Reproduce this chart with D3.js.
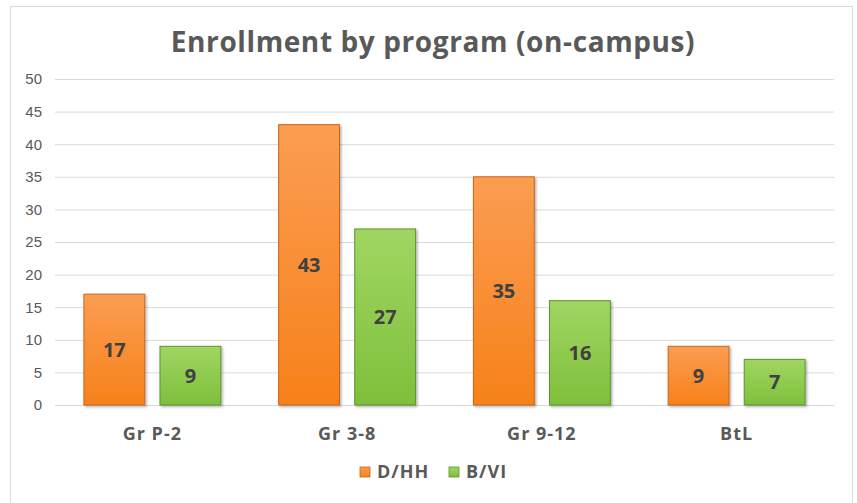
<!DOCTYPE html>
<html>
<head>
<meta charset="utf-8">
<script src="https://cdn.jsdelivr.net/npm/d3@7"></script>
<style>
  body { margin: 0; background: #fff; }
  text { font-family: "Open Sans", "DejaVu Sans", sans-serif; }
</style>
</head>
<body>
<svg id="chart" width="857" height="503"></svg>
<script>
const programs = ["Gr P-2", "Gr 3-8", "Gr 9-12", "BtL"];
const seriesNames = ["D/HH", "B/VI"];
const dhh = [17, 43, 35, 9];
const bvi = [9, 27, 16, 7];
const yTickValues = [0, 5, 10, 15, 20, 25, 30, 35, 40, 45, 50];

let width = 857, height = 503,
  margin = {top: 79, right: 23, bottom: 98, left: 55},
  colors = {"D/HH": ["#fb9d52", "#f7811a"], "B/VI": ["#a0d662", "#7fbf3c"]},
  edge = {"D/HH": "#c9651a", "B/VI": "#5f9230"};

const svg = d3.select("#chart");

// chart frame
svg.append("rect")
  .attr("x", 10.5).attr("y", 6.5)
  .attr("width", 842).attr("height", 510)
  .style("fill", "#fff")
  .style("stroke", "#d9d9d9");

// gradients for bars
const defs = svg.append("defs");
seriesNames.forEach((s, i) => {
  let g = defs.append("linearGradient")
    .attr("id", "grad" + i)
    .attr("x1", 0).attr("y1", 0).attr("x2", 0).attr("y2", 1);
  g.append("stop").attr("offset", "0%").attr("stop-color", colors[s][0]);
  g.append("stop").attr("offset", "100%").attr("stop-color", colors[s][1]);
});
let sh = defs.append("filter").attr("id", "shadow")
  .attr("x", "-20%").attr("y", "-20%").attr("width", "140%").attr("height", "140%");
sh.append("feDropShadow").attr("dx", 1.5).attr("dy", 1.5).attr("stdDeviation", 1.2)
  .attr("flood-color", "#000").attr("flood-opacity", 0.3);

const x = d3.scaleBand()
  .domain(programs)
  .range([margin.left, width - margin.right]);
const xSub = d3.scaleBand()
  .domain(seriesNames)
  .range([0, x.bandwidth()])
  .paddingInner(0.2)
  .paddingOuter(0.38);
const y = d3.scaleLinear()
  .domain([0, 50])
  .range([height - margin.bottom, margin.top]);

// y grid + labels
const yAxis = d3.axisLeft(y).tickValues(yTickValues).tickSize(-(width - margin.left - margin.right)).tickPadding(13);
const gY = svg.append("g")
  .attr("transform", "translate(" + margin.left + ",0)")
  .call(yAxis);
gY.select(".domain").remove();
gY.selectAll(".tick line").style("stroke", "#d9d9d9").style("stroke-width", 1);
gY.selectAll(".tick text")
  .style("fill", "#595959")
  .style("font-size", "15px")
  .style("font-family", "'Liberation Sans', sans-serif");

// x axis labels
const xAxis = d3.axisBottom(x).tickSize(0).tickPadding(22);
const gX = svg.append("g")
  .attr("transform", "translate(0," + y(0) + ")")
  .call(xAxis);
gX.select(".domain").remove();
gX.selectAll(".tick text")
  .style("fill", "#595959")
  .style("font-size", "18px")
  .style("letter-spacing", "1px")
  .style("font-weight", "bold");

// bars
const rows = programs.map((p, i) => ({program: p, values: [{s: "D/HH", v: dhh[i], k: 0}, {s: "B/VI", v: bvi[i], k: 1}]}));
const groups = svg.selectAll(".grp")
  .data(rows)
  .enter()
  .append("g")
  .attr("transform", d => "translate(" + x(d.program) + ",0)");

groups.selectAll("rect")
  .data(d => d.values)
  .enter()
  .append("rect")
  .attr("x", d => xSub(d.s))
  .attr("y", d => y(d.v))
  .attr("width", xSub.bandwidth())
  .attr("height", d => y(0) - y(d.v))
  .style("fill", d => "url(#grad" + d.k + ")")
  .style("stroke", d => edge[d.s])
  .style("stroke-width", 1)
  .attr("filter", "url(#shadow)");

// value labels
groups.selectAll(".val")
  .data(d => d.values)
  .enter()
  .append("text")
  .attr("x", d => xSub(d.s) + xSub.bandwidth() / 2)
  .attr("y", d => (y(d.v) + y(0)) / 2)
  .attr("dy", "0.36em")
  .attr("text-anchor", "middle")
  .style("fill", "#404040")
  .style("font-size", "20px")
  .style("font-weight", "bold")
  .text(d => d.v);

// title
svg.append("text")
  .attr("x", 433)
  .attr("y", 52)
  .attr("text-anchor", "middle")
  .style("fill", "#595959")
  .style("font-size", "28px")
  .style("letter-spacing", "0.6px")
  .style("font-weight", "bold")
  .text("Enrollment by program (on-campus)");

// legend
const legend = svg.append("g").attr("transform", "translate(360,472)");
seriesNames.forEach((s, i) => {
  let lx = i * 89;
  legend.append("rect")
    .attr("x", lx).attr("y", -5)
    .attr("width", 10).attr("height", 10)
    .style("fill", "url(#grad" + i + ")")
    .style("stroke", edge[s]).style("stroke-width", 0.8);
  legend.append("text")
    .attr("x", lx + 17).attr("y", 0)
    .attr("dy", "0.36em")
    .style("fill", "#595959")
    .style("font-size", "18px")
    .style("letter-spacing", "1px")
    .style("font-weight", "bold")
    .text(s);
});
</script>
</body>
</html>
